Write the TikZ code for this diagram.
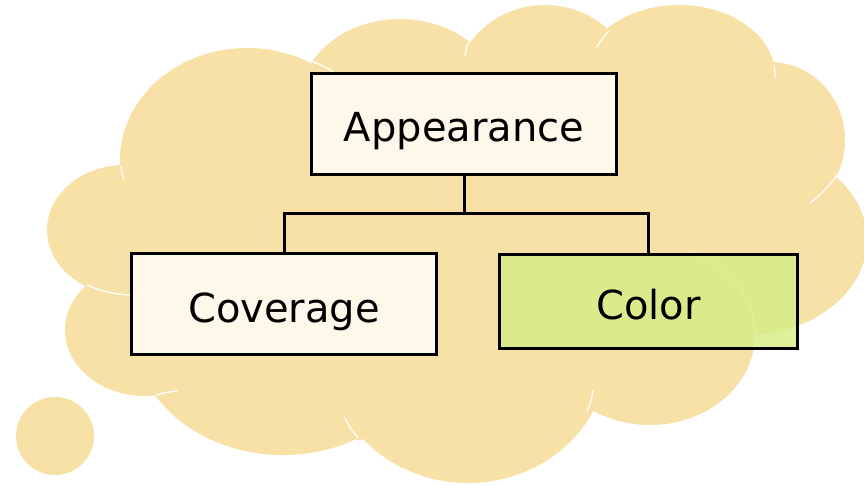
\documentclass[tikz,border=0pt]{standalone}
\usepackage{fontspec}
\setmainfont{DejaVu Sans}
\definecolor{cloudfill}{HTML}{F7E1A6}
\definecolor{paper}{HTML}{FDF8EA}
\definecolor{leaf}{HTML}{D6EE87}
\begin{document}
\begin{tikzpicture}[x=1pt,y=-1pt,
  seam/.style={draw=white,line width=1.3pt,line cap=round},
  box/.style={draw=black,line width=3.4pt,fill=paper,
    minimum width=305pt,minimum height=101pt,inner sep=0pt,
    font=\fontsize{40}{48}\selectfont,text height=36pt,text depth=0pt},
  link/.style={draw=black,line width=3pt}]
\useasboundingbox (0,0) rectangle (864,486);

% thought cloud: each lobe filled on its own, plus a core polygon
\foreach \cx/\cy/\rx/\ry in {
  247/160/127/112, 125/230/78/65, 145/330/80/66, 283/330/150/125,
  468/353/140/130, 650/335/105/90, 745/240/122/95, 770/140/75/78,
  679/75/96/70, 545/90/90/85, 400/101/100/82}
  \fill[cloudfill] (\cx,\cy) ellipse [x radius=\rx pt,y radius=\ry pt];
\fill[cloudfill]
  (122,175) -- (313,62) -- (465,55) -- (605,32) -- (774,67) -- (837,175)
  -- (755,333) -- (590,412) -- (358,440) -- (155,395) -- (87,285) -- cycle;
% small bubble
\fill[cloudfill] (55,436) circle [radius=39pt];

% light seams where lobes overlap
\draw[seam] (313,62) to[bend left=8] (333,72);
\draw[seam] (121,166) to[bend right=8] (124,179);
\draw[seam] (465,55) to[bend left=8] (469,42);
\draw[seam] (597,47) to[bend left=6] (609,31);
\draw[seam] (774,66) to[bend left=6] (775,77);
\draw[seam] (810,203) to[bend right=8] (837,175);
\draw[seam] (87,285) to[bend right=10] (130,295);
\draw[seam] (157,395) to[bend left=6] (177,391);
\draw[seam] (345,418) to[bend right=6] (358,438);
\draw[seam] (587,411) to[bend right=8] (593,390);
\draw[seam,line width=1pt] (650,335) ++(66:105pt and 90pt)
  arc[start angle=66,end angle=-3,x radius=105pt,y radius=90pt];

% hierarchy
\node[box] (app) at (464,124) {Appearance};
\node[box] (cov) at (284,304) {Coverage};
\node[box,fill=leaf,fill opacity=0.82,text opacity=1,
  minimum width=298pt,minimum height=94pt] (col) at (648.5,301.5) {Color};

\coordinate (split) at (464,214);
\draw[link] (app.south) -- (split) -| (cov.north);
\draw[link] (split) -| (col.north);
\end{tikzpicture}
\end{document}
